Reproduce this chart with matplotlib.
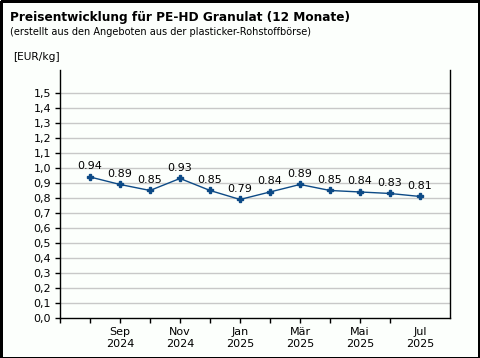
import matplotlib
matplotlib.use("Agg")
import matplotlib.pyplot as plt
from matplotlib.patches import Rectangle
from matplotlib.ticker import FuncFormatter

months = ["Aug\n2024", "Sep\n2024", "Okt\n2024", "Nov\n2024", "Dez\n2024", "Jan\n2025",
          "Feb\n2025", "Mär\n2025", "Apr\n2025", "Mai\n2025", "Jun\n2025", "Jul\n2025"]
prices = [0.94, 0.89, 0.85, 0.93, 0.85, 0.79, 0.84, 0.89, 0.85, 0.84, 0.83, 0.81]
yticks = [round(i * 0.1, 1) for i in range(16)]

plt.rcParams['font.family'] = ['DejaVu Sans']

bg = "#fcfffc"
fig = plt.figure(figsize=(4.8, 3.58), dpi=100, facecolor=bg)
ax = fig.add_axes([60/480, 40/358, 390/480, 248/358])
ax.set_facecolor(bg)

x = list(range(len(prices)))
color = "#0d4a86"
ax.plot(x, prices, color=color, lw=1, marker='P', markersize=5, zorder=3)
for xi, v in zip(x, prices):
    ax.annotate(f"{v:.2f}", (xi, v), xytext=(0, 4), textcoords="offset points",
                ha="center", va="bottom", fontsize=8, color="black")

ax.set_xlim(-1, 12)
ax.set_ylim(0, 1.653)
ax.set_yticks(yticks)
ax.yaxis.set_major_formatter(FuncFormatter(lambda v, p: f"{v:.1f}".replace(".", ",")))
ax.tick_params(axis='y', labelsize=8, length=3.5, width=1, pad=3)

tick_pos = list(range(-1, 12))
labels = [""] + [m if i % 2 == 1 else "" for i, m in enumerate(months)]
ax.set_xticks(tick_pos)
ax.set_xticklabels(labels)
ax.tick_params(axis='x', length=3.5, width=1, labelsize=8, pad=3)
ax.xaxis.get_major_ticks()[-1].tick1line.set_visible(False)

for v in yticks[1:]:
    ax.axhline(v, color="#c8c8c8", lw=1, zorder=1)

ax.spines['top'].set_visible(False)
for s in ['left', 'right', 'bottom']:
    ax.spines[s].set_linewidth(1)
    ax.spines[s].set_color('black')

fig.text(10/480, 1 - 17/358, "Preisentwicklung für PE-HD Granulat (12 Monate)",
         fontsize=8.7, fontweight='bold', ha='left', va='center')
fig.text(10/480, 1 - 32/358, "(erstellt aus den Angeboten aus der plasticker-Rohstoffbörse)",
         fontsize=7, ha='left', va='center')
fig.text(13/480, 1 - 57/358, "[EUR/kg]", fontsize=7.7, ha='left', va='center')

fig.add_artist(Rectangle((0.5/480, 0.5/358), 478.5/480, 356.5/358, fill=False,
                         edgecolor='black', lw=0.9, antialiased=False,
                         transform=fig.transFigure))

fig.savefig("out.png", dpi=100, facecolor=bg)
